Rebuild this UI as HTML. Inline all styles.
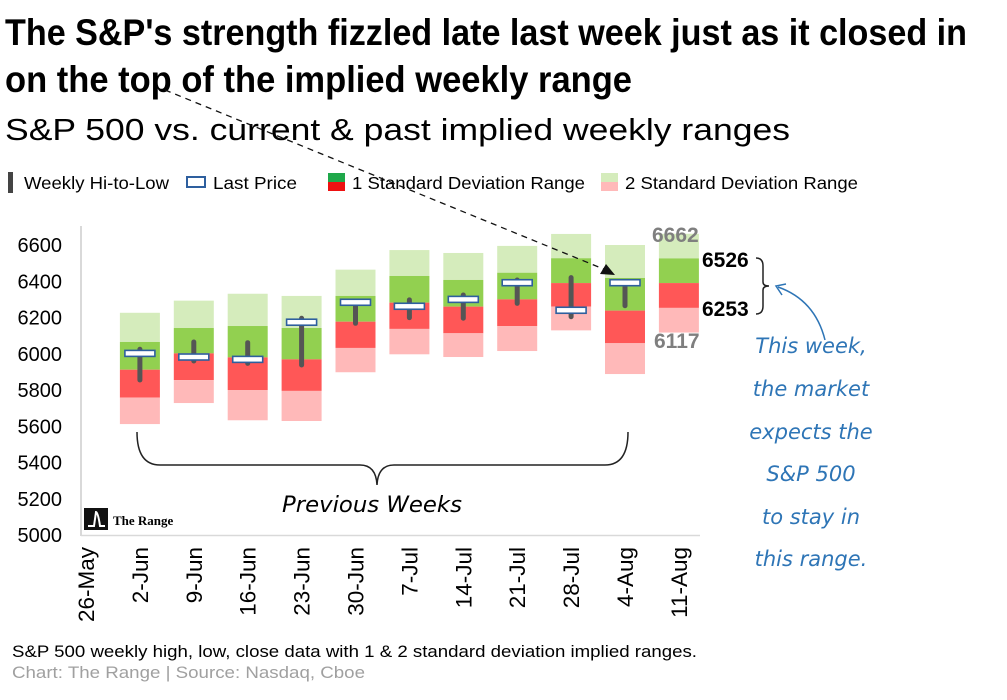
<!DOCTYPE html>
<html><head><meta charset="utf-8"><style>
body{margin:0;width:1007px;height:700px;background:#fff;overflow:hidden;font-family:"Liberation Sans",sans-serif}
svg{position:absolute;left:0;top:0}
</style></head><body>
<svg id="c" width="1007" height="700" viewBox="0 0 1007 700">
<text x="5" y="45" font-family="Liberation Sans Narrow, Liberation Sans, sans-serif" font-weight="bold" font-size="37" textLength="962" lengthAdjust="spacingAndGlyphs">The S&amp;P's strength fizzled late last week just as it closed in</text>
<text x="5" y="92" font-family="Liberation Sans Narrow, Liberation Sans, sans-serif" font-weight="bold" font-size="37" textLength="627" lengthAdjust="spacingAndGlyphs">on the top of the implied weekly range</text>
<text x="5" y="140" font-size="31" textLength="785" lengthAdjust="spacingAndGlyphs">S&amp;P 500 vs. current &amp; past implied weekly ranges</text>
<g font-size="17.5">
<rect x="8" y="172" width="5" height="21" fill="#444"/>
<text x="24" y="189" textLength="145" lengthAdjust="spacingAndGlyphs">Weekly Hi-to-Low</text>
<rect x="187" y="177" width="18" height="10" fill="#fff" stroke="#2e5f9e" stroke-width="2"/>
<text x="213" y="189" textLength="84" lengthAdjust="spacingAndGlyphs">Last Price</text>
<rect x="328" y="173" width="17" height="9" fill="#1fa84a"/>
<rect x="328" y="182" width="17" height="9" fill="#ee1111"/>
<text x="352" y="189" textLength="233" lengthAdjust="spacingAndGlyphs">1 Standard Deviation Range</text>
<rect x="601" y="173" width="17" height="9" fill="#d5ecbc"/>
<rect x="601" y="182" width="17" height="9" fill="#ffb9b9"/>
<text x="625" y="189" textLength="233" lengthAdjust="spacingAndGlyphs">2 Standard Deviation Range</text>
</g>
<line x1="81" y1="226" x2="81" y2="536" stroke="#d9d9d9" stroke-width="2"/>
<line x1="81" y1="535.5" x2="700" y2="535.5" stroke="#d9d9d9" stroke-width="1.5"/>
<g id="marks"></g>
<g>
<rect x="84" y="508" width="24" height="22" fill="#111"/>
<path d="M88 526 L94 526 Q96 512 96 512 Q98 512 100 526 L105 526" stroke="#fff" stroke-width="2" fill="none"/>
<text x="113" y="525" font-family="Liberation Serif, serif" font-weight="bold" font-size="13">The Range</text>
</g>
<path d="M137 432 Q137 465 160 465 L360 465 Q376 465 377 485 Q378 465 394 465 L605 465 Q628 465 628 432" fill="none" stroke="#222" stroke-width="1.5"/>
<text x="282" y="512" font-family="DejaVu Sans, sans-serif" font-style="italic" font-size="22" textLength="180" lengthAdjust="spacingAndGlyphs">Previous Weeks</text>
<line x1="165" y1="90" x2="606" y2="270" stroke="#111" stroke-width="1.3" stroke-dasharray="6,5"/>
<polygon points="615,275 600,274 606,264" fill="#111"/>
<g font-weight="bold" font-size="21">
<text x="652" y="242" fill="#7f7f7f">6662</text>
<text x="702" y="267" fill="#000">6526</text>
<text x="702" y="316" fill="#000">6253</text>
<text x="654" y="348" fill="#7f7f7f">6117</text>
</g>
<path d="M756 258 Q763 258 763 266 L763 282 Q763 286 769 286 Q763 286 763 290 L763 306 Q763 314 756 314" fill="none" stroke="#222" stroke-width="1.5"/>
<path d="M825 340 Q815 300 778 287" fill="none" stroke="#2e75b6" stroke-width="1.5"/>
<polyline points="786,284 776,286 782,295" fill="none" stroke="#2e75b6" stroke-width="1.5"/>
<g fill="#2e75b6" font-family="DejaVu Sans, sans-serif" font-style="italic" font-size="21" text-anchor="middle">
<text x="811" y="353">This week,</text>
<text x="811" y="396">the market</text>
<text x="811" y="439">expects the</text>
<text x="811" y="481">S&amp;P 500</text>
<text x="811" y="524">to stay in</text>
<text x="811" y="566">this range.</text>
</g>
<text x="12" y="657" font-size="16.5" textLength="685" lengthAdjust="spacingAndGlyphs">S&amp;P 500 weekly high, low, close data with 1 &amp; 2 standard deviation implied ranges.</text>
<text x="12" y="678" font-size="16.5" fill="#a0a0a0" textLength="353" lengthAdjust="spacingAndGlyphs">Chart: The Range | Source: Nasdaq, Cboe</text>
</svg>
<script>
const categories=["26-May","2-Jun","9-Jun","16-Jun","23-Jun","30-Jun","7-Jul","14-Jul","21-Jul","28-Jul","4-Aug","11-Aug"];
const sd2Top=[null,6226,6293,6331,6319,6464,6572,6556,6595,6661,6600,6662];
const sd1Top=[null,6065,6142,6153,6142,6319,6429,6407,6447,6527,6418,6526];
const midLine=[null,5912,6002,5980,5969,6177,6282,6260,6300,6390,6238,6390];
const sd1Bot=[null,5758,5855,5800,5795,6032,6137,6113,6153,6260,6058,6253];
const sd2Bot=[null,5612,5728,5633,5629,5898,5997,5982,6015,6129,5888,6117];
const weekHigh=[null,6025,6065,6061,6196,6291,6297,6324,6407,6420,6392,null];
const weekLow=[null,5855,5960,5947,5938,6168,6199,6196,6278,6204,6265,null];
const weekClose=[null,6002,5982,5969,6174,6284,6262,6300,6392,6240,6392,null];
const yTicks=[5000,5200,5400,5600,5800,6000,6200,6400,6600];
const NS="http://www.w3.org/2000/svg";
const y=v=>535-(v-5000)*290/1600;
const x=i=>86+i*53.9;
const g=document.getElementById('marks');
function mk(t,a){const e=document.createElementNS(NS,t);for(const k in a)e.setAttribute(k,a[k]);g.appendChild(e);return e;}
yTicks.forEach(v=>{
  const t=mk('text',{x:62,y:y(v)+7,'text-anchor':'end','font-size':'20'});
  
  
  t.textContent=v;
});
categories.forEach((c,i)=>{
  const t=mk('text',{transform:`translate(${x(i)+8},547) rotate(-90)`,'text-anchor':'end','font-size':'22.5'});
  
  
  t.textContent=c;
});
const bw=40;
categories.forEach((c,i)=>{
  if(sd2Top[i]==null)return;
  const segs=[[sd2Top[i],sd1Top[i],'#d5ecbc','sd2-upper'],[sd1Top[i],midLine[i],'#92d050','sd1-upper'],[midLine[i],sd1Bot[i],'#ff5757','sd1-lower'],[sd1Bot[i],sd2Bot[i],'#ffb9b9','sd2-lower']];
  segs.forEach(s=>{
    const r=mk('rect',{x:x(i)-bw/2,y:y(s[0]),width:bw,height:y(s[1])-y(s[0]),fill:s[2]});
    
    
  });
  if(weekHigh[i]!=null){
    const l=mk('line',{x1:x(i),x2:x(i),y1:y(weekHigh[i]),y2:y(weekLow[i]),stroke:'#555','stroke-width':5,'stroke-linecap':'round'});
    
    
    const r=mk('rect',{x:x(i)-15,y:y(weekClose[i])-3,width:30,height:6,fill:'#fff',stroke:'#2e5f9e','stroke-width':1.6});
    
    
  }
});
</script>
</body></html>
